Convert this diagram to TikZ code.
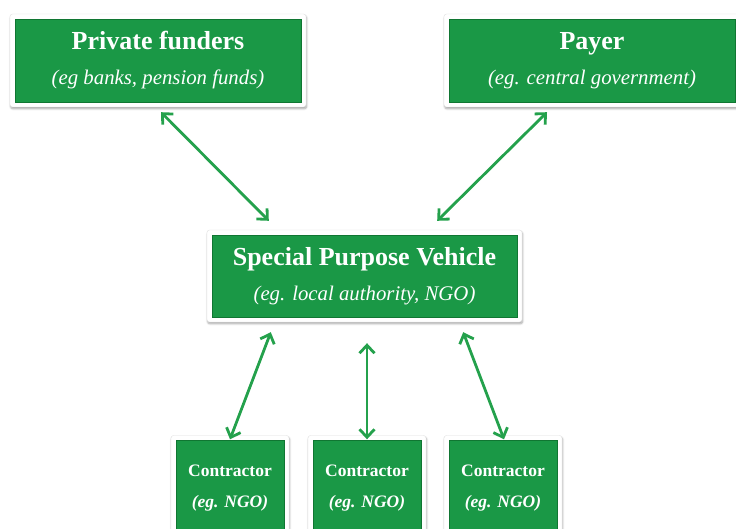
\documentclass[tikz,border=0pt]{standalone}
\usepackage{fontspec}
\setmainfont{Liberation Serif}
\usetikzlibrary{arrows.meta,shadows.blur}
\definecolor{boxgreen}{RGB}{26,152,70}
\definecolor{boxdark}{RGB}{16,118,50}
\definecolor{arrowgreen}{RGB}{36,161,76}
\newcommand\boxtitle[1]{{\fontsize{26}{35}\selectfont\bfseries #1}}
\newcommand\boxsub[1]{{\fontsize{20.8}{35}\selectfont\itshape #1}}
\newcommand\ctitle[1]{{\fontsize{17.5}{31}\selectfont\bfseries #1}}
\newcommand\csub[1]{{\fontsize{17.5}{31}\selectfont\bfseries\itshape #1}}
\tikzset{
  frame/.style={fill=white, draw=black!12, line width=0.4pt, rounded corners=2.5pt,
    inner sep=0pt, align=center, text=white,
    blur shadow={shadow xshift=0.6pt, shadow yshift=-1.8pt, shadow blur steps=6, shadow opacity=35},
    path picture={\fill[boxgreen, draw=boxdark, line width=0.9pt, sharp corners]
      ([shift={(5pt,5pt)}]path picture bounding box.south west) rectangle
      ([shift={(-5pt,-5pt)}]path picture bounding box.north east);}},
  bigbox/.style={frame, font=\fontsize{20.8}{35}\selectfont},
  smallbox/.style={frame, font=\fontsize{17.5}{31}\selectfont, minimum width=118pt, minimum height=106pt},
  link/.style={draw=arrowgreen, line width=2.8pt,
    {Straight Barb[length=8pt,width=15pt]}-{Straight Barb[length=8pt,width=15pt]}}
}
\begin{document}
\begin{tikzpicture}[x=1pt,y=-1pt]
\useasboundingbox (0,0) rectangle (736,529);
\clip (0,0) rectangle (736,529);
\node[bigbox, minimum width=296pt, minimum height=93pt] (pf) at (158,60.5)
  {\boxtitle{Private funders}\\\boxsub{(eg banks, pension funds)}};
\node[bigbox, minimum width=296pt, minimum height=93pt] (payer) at (592,60.5)
  {\boxtitle{Payer}\\\boxsub{(eg. central government)}};
\node[bigbox, minimum width=315pt, minimum height=92pt] (spv) at (364.5,276)
  {\boxtitle{Special Purpose Vehicle}\\\boxsub{(eg. local authority, NGO)}};
\node[smallbox] (c1) at (230,488.5)
  {\ctitle{Contractor}\\\csub{(eg. NGO)}};
\node[smallbox] (c2) at (367,488.5)
  {\ctitle{Contractor}\\\csub{(eg. NGO)}};
\node[smallbox] (c3) at (503,488.5)
  {\ctitle{Contractor}\\\csub{(eg. NGO)}};
\draw[link] ([xshift=3pt,yshift=-5pt]pf.south) -- ([xshift=62pt,yshift=9pt]spv.north west);
\draw[link] ([xshift=-45pt,yshift=-5pt]payer.south) -- ([xshift=-85pt,yshift=9pt]spv.north east);
\draw[link] ([xshift=64pt,yshift=-10pt]spv.south west) -- ([yshift=-4pt]c1.north);
\draw[link] ([xshift=2.5pt,yshift=-21pt]spv.south) -- ([yshift=-4pt]c2.north);
\draw[link] ([xshift=-59pt,yshift=-10pt]spv.south east) -- ([xshift=1pt,yshift=-4pt]c3.north);
\end{tikzpicture}
\end{document}
